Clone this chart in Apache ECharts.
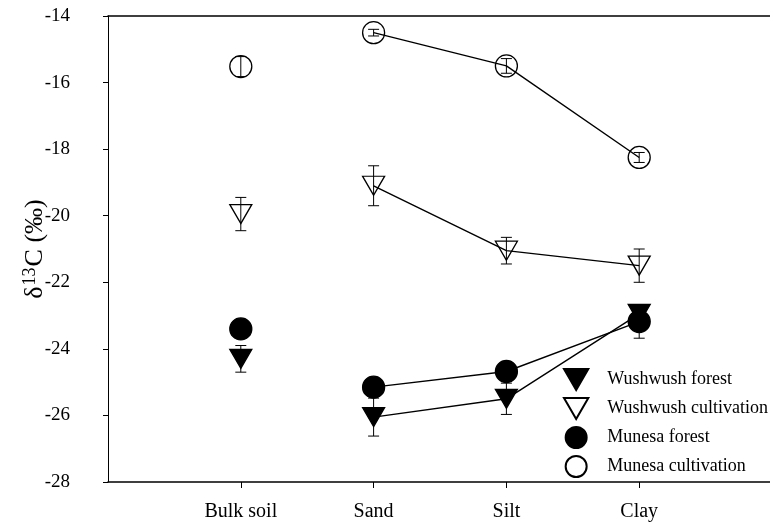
<!DOCTYPE html>
<html>
<head>
<meta charset="utf-8">
<script src="https://cdn.jsdelivr.net/npm/echarts@6/dist/echarts.min.js"></script>
<style>html,body{margin:0;padding:0;background:#fff}#c{width:770px;height:525px}</style>
</head>
<body>
<div id="c"></div>
<script>
const categories = ['Bulk soil', 'Sand', 'Silt', 'Clay'];
const yTicks = [-28, -26, -24, -22, -20, -18, -16, -14];

const wushwushForestMean = [-24.3, -26.05, -25.5, -22.95];
const wushwushForestErr  = [0.4, 0.57, 0.47, 0.2];
const wushwushCultMean   = [-19.95, -19.1, -21.05, -21.5];
const wushwushCultErr    = [0.5, 0.6, 0.4, 0.5];
const munesaForestMean   = [-23.4, -25.15, -24.68, -23.18];
const munesaForestErr    = [0.2, 0.2, 0.3, 0.5];
const munesaCultMean     = [-15.52, -14.5, -15.5, -18.25];
const munesaCultErr      = [0.3, 0.1, 0.22, 0.15];

const FONT = 'Liberation Serif';
const downTri = 'path://M0,0 L22,0 L11,19 Z';

const groups = [
  {name: 'Wushwush forest', mean: wushwushForestMean, err: wushwushForestErr, symbol: 'triangle', rotate: 180, size: [22, 19], fill: '#000'},
  {name: 'Wushwush cultivation', mean: wushwushCultMean, err: wushwushCultErr, symbol: 'triangle', rotate: 180, size: [22, 19], fill: 'rgba(0,0,0,0)'},
  {name: 'Munesa forest', mean: munesaForestMean, err: munesaForestErr, symbol: 'circle', rotate: 0, size: 22, fill: '#000'},
  {name: 'Munesa cultivation', mean: munesaCultMean, err: munesaCultErr, symbol: 'circle', rotate: 0, size: 22, fill: 'rgba(0,0,0,0)'}
];

function errRender(params, api) {
  const x = api.value(0), m = api.value(1), e = api.value(2);
  const t = api.coord([x, m + e]);
  const b = api.coord([x, m - e]);
  const h = 5.5;
  const st = {stroke: '#000', lineWidth: 1};
  return {type: 'group', children: [
    {type: 'line', shape: {x1: t[0], y1: t[1], x2: b[0], y2: b[1]}, style: st},
    {type: 'line', shape: {x1: t[0] - h, y1: t[1], x2: t[0] + h, y2: t[1]}, style: st},
    {type: 'line', shape: {x1: b[0] - h, y1: b[1], x2: b[0] + h, y2: b[1]}, style: st}
  ]};
}

const series = [];
groups.forEach(g => {
  const itemStyle = {color: g.fill, borderColor: '#000', borderWidth: 1.3, opacity: 1};
  series.push({
    type: 'custom', name: g.name + ' err', renderItem: errRender, z: 1, silent: true,
    data: categories.map((c, i) => [i + 1, g.mean[i], g.err[i]]),
    encode: {x: 0, y: 1}
  });
  series.push({
    type: 'scatter', name: g.name, z: 3, symbol: g.symbol, symbolRotate: g.rotate, symbolSize: g.size,
    itemStyle: itemStyle, data: [[1, g.mean[0]]], silent: true
  });
  series.push({
    type: 'line', name: g.name, z: 2, symbol: g.symbol, symbolRotate: g.rotate, symbolSize: g.size,
    showAllSymbol: true, itemStyle: itemStyle, lineStyle: {color: '#000', width: 1.4},
    data: g.mean.slice(1).map((v, i) => [i + 2, v]), silent: true
  });
});

const chart = echarts.init(document.getElementById('c'), null, {renderer: 'canvas'});
chart.setOption({
  animation: false,
  backgroundColor: '#fff',
  grid: {left: 108, top: 16, right: -2, bottom: 43, containLabel: false, outerBoundsMode: 'none'},
  legend: {
    orient: 'vertical', left: 563, top: 368, padding: 0, itemWidth: 52, itemHeight: 21, itemGap: 6,
    selectedMode: false,
    textStyle: {fontFamily: FONT, fontSize: 18, color: '#000'},
    data: [
      {name: 'Wushwush forest', icon: downTri},
      {name: 'Wushwush cultivation', icon: downTri},
      {name: 'Munesa forest', icon: 'circle'},
      {name: 'Munesa cultivation', icon: 'circle'}
    ]
  },
  xAxis: [{
    type: 'value', min: 0, max: 5, interval: 1, position: 'bottom',
    axisLine: {show: true, onZero: false, lineStyle: {color: '#000', width: 1.5}},
    axisTick: {show: true, inside: false, length: 6, customValues: [1, 2, 3, 4], lineStyle: {color: '#000'}},
    axisLabel: {customValues: [1, 2, 3, 4], formatter: v => categories[v - 1] || '', fontFamily: FONT, fontSize: 20, color: '#000', margin: 20},
    splitLine: {show: false}
  }, {
    type: 'value', min: 0, max: 5, position: 'top',
    axisLine: {show: true, onZero: false, lineStyle: {color: '#000', width: 1.5}},
    axisTick: {show: false}, axisLabel: {show: false}, splitLine: {show: false}
  }],
  yAxis: {
    type: 'value', min: yTicks[0], max: yTicks[yTicks.length - 1], interval: 2,
    axisLine: {show: true, onZero: false, lineStyle: {color: '#000', width: 1}},
    axisTick: {show: true, inside: false, length: 5, lineStyle: {color: '#000'}},
    axisLabel: {fontFamily: FONT, fontSize: 19, color: '#000', margin: 38},
    splitLine: {show: false},
    name: '{d|δ}{s|13}{c|C (‰)}', nameLocation: 'middle', nameRotate: 90, nameGap: 58,
    nameMoveOverlap: false,
    nameTextStyle: {
      fontFamily: FONT, color: '#000',
      rich: {
        d: {fontFamily: FONT, fontSize: 26, color: '#000'},
        s: {fontFamily: FONT, fontSize: 18, color: '#000', verticalAlign: 'top', padding: [0, 1, 11, 1]},
        c: {fontFamily: FONT, fontSize: 26, color: '#000'}
      }
    }
  },
  series: series
});
</script>
</body>
</html>
